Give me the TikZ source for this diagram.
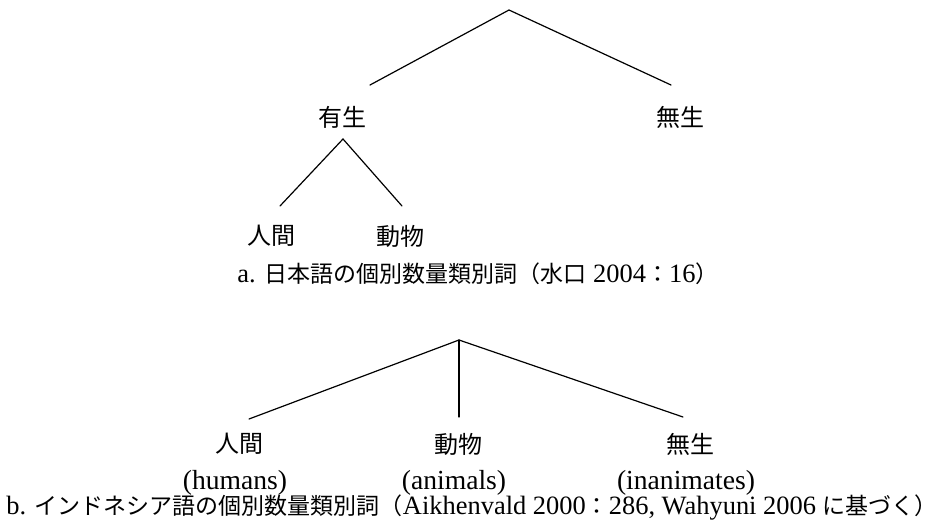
\documentclass[tikz,border=0pt]{standalone}
\usepackage{fontspec}
\setmainfont{Liberation Serif}[Scale=1.15]
\newfontfamily\cjk{Noto Sans CJK JP}
\tikzset{
  lbl/.style={inner sep=0pt, font=\cjk\fontsize{24}{28}\selectfont},
  eng/.style={inner sep=0pt, font=\fontsize{24}{28}\selectfont},
  captext/.style={inner sep=0pt, font=\fontsize{23}{27}\selectfont},
  branch/.style={line width=1.2pt, line cap=round},
}
\begin{document}
\begin{tikzpicture}[x=1pt,y=-1pt]
\useasboundingbox[fill=white] (0,0) rectangle (940,525);
% tree a
\coordinate (aroot) at (509,10);
\coordinate (aL) at (370,85);
\coordinate (aR) at (671,85);
\node[lbl] (yusei) at (342,117) {有生};
\node[lbl] (musei) at (680,117) {無生};
\coordinate (aroot2) at (343,139);
\coordinate (aLL) at (280,206);
\coordinate (aLR) at (402,206);
\node[lbl] (ningen) at (271,236) {人間};
\node[lbl] (doubutsu) at (400,236) {動物};
\draw[branch] (aL) -- (aroot) -- (aR);
\draw[branch] (aLL) -- (aroot2) -- (aLR);
\node[captext] (capa) at (478,274) {a. {\cjk 日本語の個別数量類別詞（水口} 2004{\cjk ：}16{\cjk ）}};
% tree b
\coordinate (broot) at (459,340);
\coordinate (bL) at (249,419);
\coordinate (bM) at (459,417);
\coordinate (bR) at (683,417);
\draw[branch] (bL) -- (broot) -- (bR);
\draw[branch] (broot) -- (bM);
\node[lbl] (bn1) at (239,444) {人間};
\node[eng] (be1) at (235,483) {(humans)};
\node[lbl] (bn2) at (458,444) {動物};
\node[eng] (be2) at (454,483) {(animals)};
\node[lbl] (bn3) at (690,444) {無生};
\node[eng] (be3) at (686,483) {(inanimates)};
\node[captext] (capb) at (472,508) {b. {\cjk インドネシア語の個別数量類別詞（}Aikhenvald 2000{\cjk ：}286, Wahyuni 2006 {\cjk に基づく）}};
\end{tikzpicture}
\end{document}
